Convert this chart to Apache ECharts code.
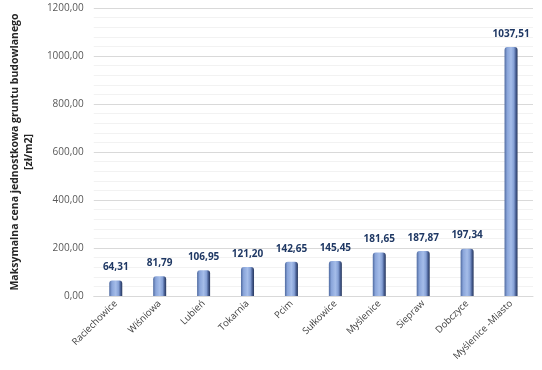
<!DOCTYPE html>
<html><head><meta charset="utf-8">
<script src="https://cdn.jsdelivr.net/npm/echarts@6/dist/echarts.min.js"></script>
<style>html,body{margin:0;padding:0;background:#fff}#c{width:542px;height:370px}</style>
</head><body><div id="c"></div>
<script>
const categories = ['Raciechowice','Wiśniowa','Lubień','Tokarnia','Pcim','Sułkowice','Myślenice','Siepraw','Dobczyce','Myślenice -Miasto'];
const values = [64.31, 81.79, 106.95, 121.20, 142.65, 145.45, 181.65, 187.87, 197.34, 1037.51];
const yTicks = [0, 200, 400, 600, 800, 1000, 1200];
const yTitle = 'Maksymalna cena jednostkowa gruntu budowlanego\n[zł/m2]';

const fmt = v => v.toFixed(2).replace('.', ',');
const chart = echarts.init(document.getElementById('c'));
chart.setOption({
  animation: false,
  grid: {left: 82, right: 9, top: 8, bottom: 74},
  xAxis: {
    type: 'category', data: categories,
    axisLine: {lineStyle: {color: '#d9d9d9'}},
    axisTick: {show: false},
    axisLabel: {rotate: 45, color: '#404040', fontFamily: 'Open Sans', fontSize: 9.5, margin: 6, interval: 0}
  },
  yAxis: {
    type: 'value', min: yTicks[0], max: yTicks[yTicks.length-1], interval: 200,
    name: yTitle, nameLocation: 'middle', nameGap: 52, nameRotate: 90,
    nameTextStyle: {fontFamily: 'Open Sans', fontWeight: 'bold', fontSize: 10.5, color: '#262626', lineHeight: 14},
    axisLine: {show: false}, axisTick: {show: false},
    axisLabel: {formatter: v => fmt(v), color: '#595959', fontFamily: 'Open Sans', fontSize: 10, margin: 10},
    splitLine: {lineStyle: {color: '#d9d9d9'}},
    minorTick: {show: false, splitNumber: 5},
    minorSplitLine: {show: true, lineStyle: {color: '#f2f2f2'}}
  },
  series: [{
    type: 'bar', data: values, barWidth: 13,
    itemStyle: {
      borderRadius: [3, 3, 0, 0],
      color: new echarts.graphic.LinearGradient(0, 0, 1, 0, [
        {offset: 0, color: '#4f6aa0'},
        {offset: 0.2, color: '#8aa5da'},
        {offset: 0.5, color: '#a5bde9'},
        {offset: 0.72, color: '#86a1d6'},
        {offset: 0.86, color: '#4a6196'},
        {offset: 1, color: '#26365a'}
      ])
    },
    label: {
      show: true, position: 'top', distance: 8,
      formatter: p => fmt(p.value),
      color: '#1f3864', fontFamily: 'Open Sans', fontWeight: 'bold', fontSize: 10
    }
  }]
});
</script></body></html>
